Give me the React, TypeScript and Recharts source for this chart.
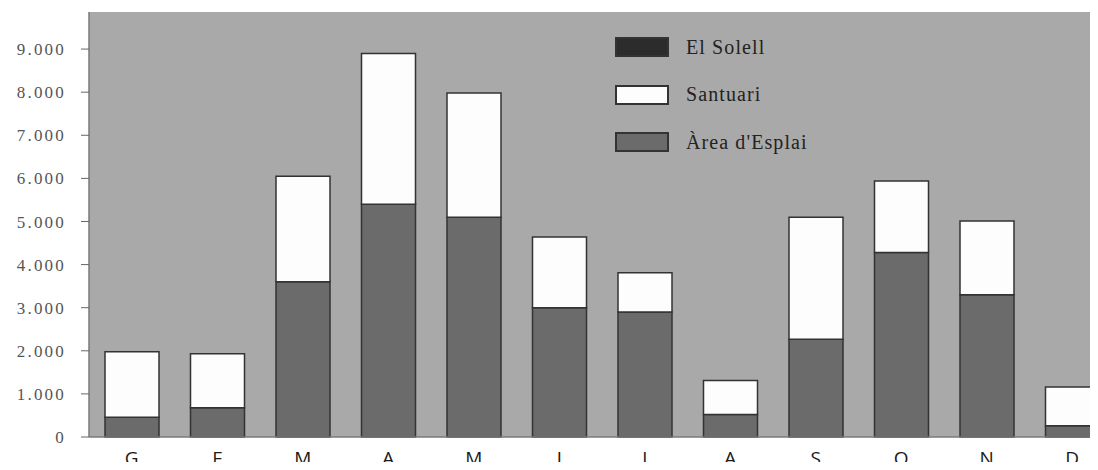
import React from "react";
import {
  BarChart,
  Bar,
  XAxis,
  YAxis,
  CartesianGrid,
  Legend,
} from "recharts";

const months = ["G", "F", "M", "A", "M", "J", "J", "A", "S", "O", "N", "D"];
const areaEsplai = [460, 680, 3600, 5400, 5100, 3000, 2900, 520, 2270, 4280, 3300, 260];
const santuari = [1520, 1250, 2450, 3500, 2880, 1640, 910, 790, 2830, 1660, 1710, 900];
const elSolell = [0, 0, 0, 0, 0, 0, 0, 0, 0, 0, 0, 0];
const yTicks = [0, 1000, 2000, 3000, 4000, 5000, 6000, 7000, 8000, 9000];

const data = months.map((m, i) => ({
  key: `${m}${i}`,
  month: m,
  area: areaEsplai[i],
  santuari: santuari[i],
  solell: elSolell[i],
}));

const legendItems = [
  { label: "El Solell", fill: "#2c2c2c" },
  { label: "Santuari", fill: "#fdfdfd" },
  { label: "Àrea d'Esplai", fill: "#6b6b6b" },
];

function ChartLegend() {
  return (
    <div style={{ fontFamily: "'Liberation Serif', 'DejaVu Serif', serif" }}>
      {legendItems.map((it) => (
        <div
          key={it.label}
          style={{ display: "flex", alignItems: "center", height: 20, marginBottom: 27.5 }}
        >
          <span
            style={{
              width: 50,
              height: 16,
              background: it.fill,
              border: "2px solid #333",
              display: "inline-block",
            }}
          />
          <span style={{ marginLeft: 17, fontSize: 20, color: "#222", letterSpacing: 1.1 }}>
            {it.label}
          </span>
        </div>
      ))}
    </div>
  );
}

const fmt = (v: number) => (v === 0 ? "0" : `${v / 1000}.000`);

export default function App() {
  return (
    <div
      style={{
        margin: -8,
        width: 1098,
        height: 470,
        overflow: "hidden",
        background: "#fff",
        position: "relative",
      }}
    >
      <BarChart
        width={1120}
        height={470}
        data={data}
        margin={{ top: 12, right: 5, left: 0, bottom: 0 }}
        barSize={54}
      >
        <CartesianGrid horizontal={false} vertical={false} fill="#a9a9a9" />
        <XAxis
          dataKey="key"
          tickFormatter={(_v, i) => months[i]}
          height={33}
          tickLine={false}
          axisLine={{ stroke: "#7a7a7a", strokeWidth: 1.5 }}
          tickMargin={9}
          tick={{ fontSize: 19, fill: "#1a1a1a", fontFamily: "'Open Sans', sans-serif" }}
        />
        <YAxis
          width={89}
          domain={[0, 9860]}
          ticks={yTicks}
          tickFormatter={fmt}
          tickSize={8}
          tickMargin={15}
          tickLine={{ stroke: "#666" }}
          axisLine={{ stroke: "#7a7a7a", strokeWidth: 1.5 }}
          tick={{ fontSize: 17, fill: "#555", fontFamily: "'Liberation Serif', serif", letterSpacing: 2.2 }}
        />
        <Legend
          layout="horizontal"
          verticalAlign="middle"
          align="center"
          content={() => <ChartLegend />}
          wrapperStyle={{ position: "absolute", left: 615, top: 37, width: 260 }}
        />
        <Bar dataKey="area" stackId="a" fill="#6b6b6b" stroke="#333" strokeWidth={1.5} isAnimationActive={false} />
        <Bar dataKey="santuari" stackId="a" fill="#fdfdfd" stroke="#333" strokeWidth={1.5} isAnimationActive={false} />
        <Bar dataKey="solell" stackId="a" fill="#2c2c2c" stroke="#333" strokeWidth={1.5} isAnimationActive={false} />
      </BarChart>
    </div>
  );
}
